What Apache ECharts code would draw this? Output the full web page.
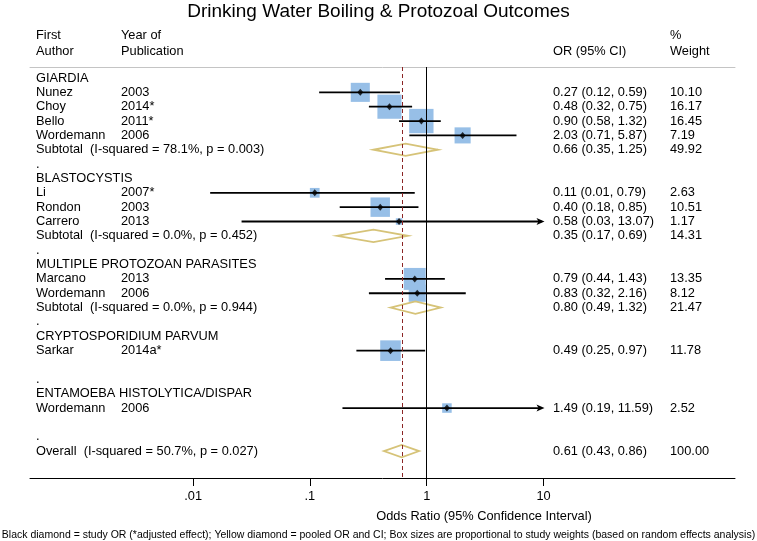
<!DOCTYPE html>
<html>
<head>
<meta charset="utf-8">
<script src="https://cdn.jsdelivr.net/npm/echarts@6/dist/echarts.min.js"></script>
<style>html,body{margin:0;padding:0;background:#fff}#c{width:757px;height:541px}</style>
</head>
<body>
<div id="c"></div>
<script>
// ---------------- data ----------------
const rowAuthors = [
  'GIARDIA','Nunez','Choy','Bello','Wordemann','Subtotal  (I-squared = 78.1%, p = 0.003)','.',
  'BLASTOCYSTIS','Li','Rondon','Carrero','Subtotal  (I-squared = 0.0%, p = 0.452)','.',
  'MULTIPLE PROTOZOAN PARASITES','Marcano','Wordemann','Subtotal  (I-squared = 0.0%, p = 0.944)','.',
  'CRYPTOSPORIDIUM PARVUM','Sarkar','','.',
  'ENTAMOEBA HISTOLYTICA/DISPAR','Wordemann','','.',
  'Overall  (I-squared = 50.7%, p = 0.027)'
];
const rowYears = [
  '','2003','2014*','2011*','2006','','',
  '','2007*','2003','2013','','',
  '','2013','2006','','',
  '','2014a*','','',
  '','2006','','',
  ''
];
const studyRows   = [1, 2, 3, 4, 8, 9, 10, 14, 15, 19, 23];
const studyOR     = [0.27, 0.48, 0.90, 2.03, 0.11, 0.40, 0.58, 0.79, 0.83, 0.49, 1.49];
const studyLo     = [0.12, 0.32, 0.58, 0.71, 0.014, 0.18, 0.026, 0.44, 0.32, 0.25, 0.19];
const studyHi     = [0.59, 0.75, 1.32, 5.87, 0.79, 0.85, 13.07, 1.43, 2.16, 0.97, 11.59];
const studyWeight = [10.10, 16.17, 16.45, 7.19, 2.63, 10.51, 1.17, 13.35, 8.12, 11.78, 2.52];

const pooledRows   = [5, 11, 16, 26];
const pooledOR     = [0.66, 0.35, 0.80, 0.61];
const pooledLo     = [0.35, 0.17, 0.49, 0.43];
const pooledHi     = [1.25, 0.69, 1.32, 0.86];
const pooledWeight = [49.92, 14.31, 21.47, 100.00];

const overallOR = 0.61;
const tickValues = [0.01, 0.1, 1, 10];
const tickLabels = ['.01', '.1', '1', '10'];
const plotClipLo = 0.01, plotClipHi = 10;

// ---------------- layout ----------------
const FONT = '"Liberation Sans", Arial, Helvetica, sans-serif';
const FS = 12.8;
const lg = Math.log10;
const PX0 = 426.7, DEC = 116.8, GL = 30, GR = 735, GT = 67, GB = 478;
const xMin = (GL - PX0) / DEC, xMax = (GR - PX0) / DEC;
const ROW0 = 78, ROWH = 14.35;
const yMin = -(ROW0 - GT) / ROWH, yMax = (GB - ROW0) / ROWH;
const COL_AUTH = 36, COL_YEAR = 121, COL_OR = 553, COL_W = 670;

const fmt = v => v.toFixed(2);
const orTextByRow = {}, wTextByRow = {};
studyRows.forEach((r, k) => {
  orTextByRow[r] = fmt(studyOR[k]) + ' (' + fmt(studyLo[k]) + ', ' + fmt(studyHi[k]) + ')';
  wTextByRow[r] = fmt(studyWeight[k]);
});
pooledRows.forEach((r, k) => {
  orTextByRow[r] = fmt(pooledOR[k]) + ' (' + fmt(pooledLo[k]) + ', ' + fmt(pooledHi[k]) + ')';
  wTextByRow[r] = fmt(pooledWeight[k]);
});

const chart = echarts.init(document.getElementById('c'), null, {renderer: 'canvas'});

const textStyle = (t, x, y, extra) => Object.assign({
  text: t, x: x, y: y, font: FS + 'px ' + FONT, fill: '#000', align: 'left', verticalAlign: 'middle'
}, extra || {});

const option = {
  backgroundColor: '#fff',
  animation: false,
  grid: {left: GL, right: 757 - GR, top: GT, bottom: 541 - GB, containLabel: false},
  xAxis: [{
    type: 'value', position: 'bottom', min: xMin, max: xMax,
    axisLine: {show: true, onZero: false, lineStyle: {color: '#000', width: 1}},
    axisTick: {show: true, length: 8, lineStyle: {color: '#000', width: 1}, customValues: tickValues.map(lg)},
    axisLabel: {
      show: true, margin: 12, color: '#000', fontFamily: FONT, fontSize: FS,
      customValues: tickValues.map(lg),
      formatter: v => { const i = tickValues.map(lg).findIndex(t => Math.abs(t - v) < 1e-6); return i >= 0 ? tickLabels[i] : ''; }
    },
    splitLine: {show: false}
  }, {
    type: 'value', position: 'top', min: xMin, max: xMax,
    axisLine: {show: true, onZero: false, lineStyle: {color: '#c4c4c4', width: 1}},
    axisTick: {show: false}, axisLabel: {show: false}, splitLine: {show: false}
  }],
  yAxis: {type: 'value', inverse: true, min: yMin, max: yMax, show: false},
  series: [
    // reference lines
    {
      type: 'line', data: [], silent: true, z: 1,
      markLine: {
        silent: true, symbol: 'none', label: {show: false}, animation: false,
        data: [
          {xAxis: 0, lineStyle: {color: '#000', width: 1, type: 'solid'}},
          {xAxis: lg(overallOR), lineStyle: {color: '#8b2525', width: 1, type: [4, 3]}}
        ]
      }
    },
    // weight boxes
    {
      type: 'custom', z: 2, silent: true,
      data: studyRows.map((r, k) => [lg(studyOR[k]), r, studyWeight[k]]),
      encode: {x: 0, y: 1},
      renderItem: (params, api) => {
        const p = api.coord([api.value(0), api.value(1)]);
        const s = 6.0 * Math.sqrt(api.value(2));
        return {type: 'rect', shape: {x: p[0] - s / 2, y: p[1] - s / 2, width: s, height: s},
                style: {fill: '#97bfe7'}};
      }
    },
    // CI lines
    {
      type: 'custom', z: 3, silent: true,
      data: studyRows.map((r, k) => [r, lg(studyLo[k]), lg(studyHi[k])]),
      encode: {x: [1, 2], y: 0},
      renderItem: (params, api) => {
        const row = api.value(0);
        const lo = Math.max(api.value(1), lg(plotClipLo));
        const hiRaw = api.value(2);
        const hi = Math.min(hiRaw, lg(plotClipHi));
        const a = api.coord([lo, row]), b = api.coord([hi, row]);
        const ch = [{type: 'line', shape: {x1: a[0], y1: a[1], x2: b[0] - (hiRaw > hi ? 2 : 0), y2: b[1]},
                     style: {stroke: '#000', lineWidth: 1.8}}];
        if (hiRaw > hi) {
          ch.push({type: 'polygon', shape: {points: [[b[0] - 7, b[1] - 3.5], [b[0] + 1, b[1]], [b[0] - 7, b[1] + 3.5], [b[0] - 5, b[1]]]},
                   style: {fill: '#000'}});
        }
        return {type: 'group', children: ch};
      }
    },
    // study point estimates
    {
      type: 'scatter', z: 4, silent: true, symbol: 'diamond', symbolSize: [6, 7],
      itemStyle: {color: '#000'},
      data: studyRows.map((r, k) => [lg(studyOR[k]), r])
    },
    // pooled diamonds
    {
      type: 'custom', z: 4, silent: true,
      data: pooledRows.map((r, k) => [r, lg(pooledLo[k]), lg(pooledOR[k]), lg(pooledHi[k])]),
      encode: {x: [1, 3], y: 0},
      renderItem: (params, api) => {
        const row = api.value(0);
        const l = api.coord([api.value(1), row]), m = api.coord([api.value(2), row]), h = api.coord([api.value(3), row]);
        const hh = 6.2;
        return {type: 'polygon', shape: {points: [[l[0], l[1]], [m[0], m[1] - hh], [h[0], h[1]], [m[0], m[1] + hh]]},
                style: {fill: 'none', stroke: '#d6c378', lineWidth: 1.8}};
      }
    },
    // text columns
    {
      type: 'custom', z: 5, silent: true,
      data: rowAuthors.map((_, i) => [0, i]),
      encode: {x: 0, y: 1},
      renderItem: (params, api) => {
        const i = params.dataIndex;
        const y = api.coord([0, api.value(1)])[1];
        const ch = [];
        if (rowAuthors[i]) ch.push({type: 'text', style: textStyle(rowAuthors[i], COL_AUTH, y)});
        if (rowYears[i]) ch.push({type: 'text', style: textStyle(rowYears[i], COL_YEAR, y)});
        if (orTextByRow[i]) ch.push({type: 'text', style: textStyle(orTextByRow[i], COL_OR, y)});
        if (wTextByRow[i]) ch.push({type: 'text', style: textStyle(wTextByRow[i], COL_W, y)});
        return {type: 'group', children: ch};
      }
    }
  ],
  graphic: [
    {type: 'text', silent: true, style: textStyle('Drinking Water Boiling & Protozoal Outcomes', 378.5, 12, {font: '19px ' + FONT, align: 'center'})},
    {type: 'text', silent: true, style: textStyle('First', COL_AUTH, 35)},
    {type: 'text', silent: true, style: textStyle('Author', COL_AUTH, 51)},
    {type: 'text', silent: true, style: textStyle('Year of', COL_YEAR, 35)},
    {type: 'text', silent: true, style: textStyle('Publication', COL_YEAR, 51)},
    {type: 'text', silent: true, style: textStyle('OR (95% CI)', COL_OR, 51)},
    {type: 'text', silent: true, style: textStyle('%', COL_W, 35)},
    {type: 'text', silent: true, style: textStyle('Weight', COL_W, 51)},
    {type: 'text', silent: true, style: textStyle('Odds Ratio (95% Confidence Interval)', 484, 516, {align: 'center'})},
    {type: 'text', silent: true, style: textStyle('Black diamond = study OR (*adjusted effect); Yellow diamond = pooled OR and CI; Box sizes are proportional to study weights (based on random effects analysis)', 378.5, 535, {font: '10.5px ' + FONT, align: 'center'})}
  ]
};
chart.setOption(option);
</script>
</body>
</html>
